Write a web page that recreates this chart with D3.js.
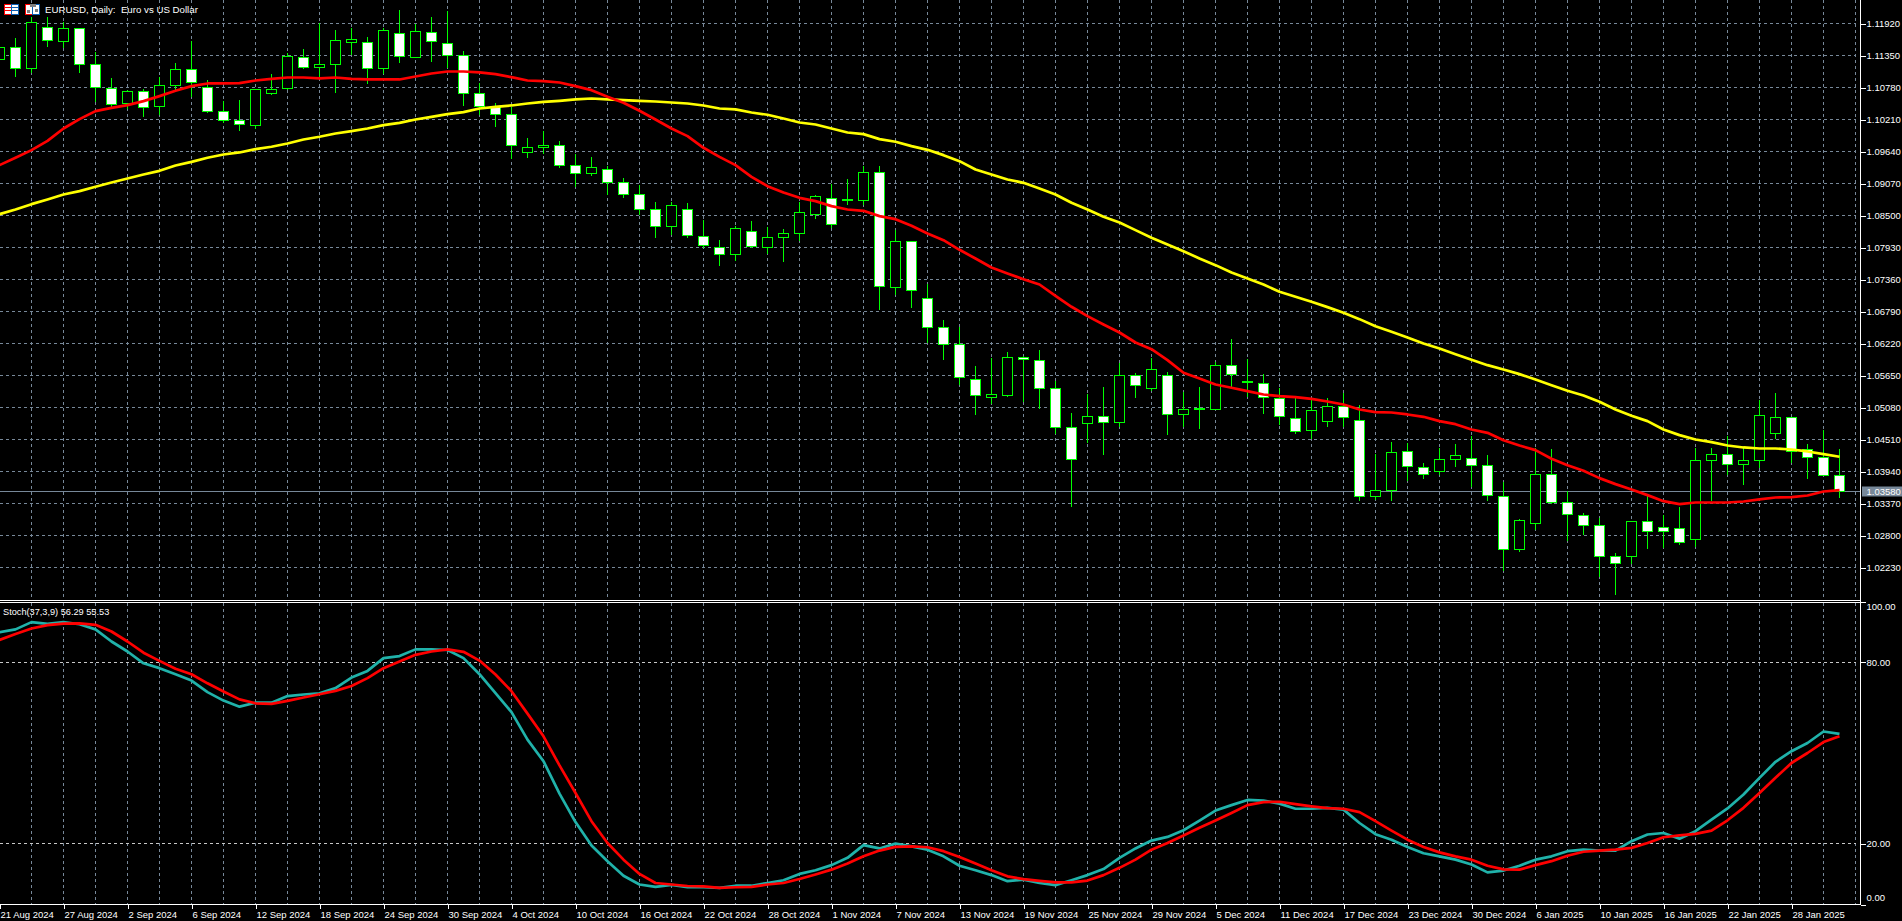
<!DOCTYPE html>
<html>
<head>
<meta charset="utf-8">
<title>EURUSD, Daily</title>
<script src="https://cdn.jsdelivr.net/npm/d3@7"></script>
<style>
  html, body { margin: 0; padding: 0; background: #000; overflow: hidden; }
  svg { display: block; }
  text { font-family: "Liberation Sans", Arial, sans-serif; font-size: 9.5px; fill: #fff; }
</style>
</head>
<body>
<script>
var dateLabels = ['21 Aug 2024', '27 Aug 2024', '2 Sep 2024', '6 Sep 2024', '12 Sep 2024', '18 Sep 2024', '24 Sep 2024', '30 Sep 2024',
  '4 Oct 2024', '10 Oct 2024', '16 Oct 2024', '22 Oct 2024', '28 Oct 2024', '1 Nov 2024', '7 Nov 2024', '13 Nov 2024',
  '19 Nov 2024', '25 Nov 2024', '29 Nov 2024', '5 Dec 2024', '11 Dec 2024', '17 Dec 2024', '23 Dec 2024', '30 Dec 2024',
  '6 Jan 2025', '10 Jan 2025', '16 Jan 2025', '22 Jan 2025', '28 Jan 2025']

var priceTicks = [1.1192, 1.1135, 1.1078, 1.1021, 1.0964, 1.0907, 1.085, 1.0793, 1.0736, 1.0679,
  1.0622, 1.0565, 1.0508, 1.0451, 1.0394, 1.0337, 1.028, 1.0223]
var stochTicks = [100, 80, 20, 0]
var lastPrice = 1.0358

var opens = [1.11279, 1.11493, 1.11119, 1.11849, 1.11594, 1.11831, 1.11190, 1.10763, 1.10495, 1.10703,
  1.10442, 1.10810, 1.11101, 1.10780, 1.10353, 1.10193, 1.10104, 1.10674, 1.10763, 1.11315,
  1.11137, 1.11190, 1.11582, 1.11582, 1.11119, 1.11742, 1.11315, 1.11760, 1.11564, 1.11350,
  1.10674, 1.10448, 1.10299, 1.09623, 1.09706, 1.09747, 1.09391, 1.09248, 1.09320, 1.09082,
  1.08874, 1.08607, 1.08304, 1.08607, 1.08126, 1.07930, 1.07806, 1.08215, 1.07930, 1.08109,
  1.08180, 1.08518, 1.08803, 1.08768, 1.08768, 1.09266, 1.07218, 1.08037, 1.07022, 1.06505,
  1.06203, 1.05579, 1.05253, 1.05288, 1.05971, 1.05918, 1.05419, 1.04724, 1.04795, 1.04920,
  1.04813, 1.05650, 1.05413, 1.05650, 1.04950, 1.05045, 1.05045, 1.05829, 1.05526, 1.05508,
  1.05241, 1.04884, 1.04665, 1.04825, 1.05098, 1.04849, 1.03495, 1.03602, 1.04291, 1.04006,
  1.03934, 1.04154, 1.04172, 1.04047, 1.03495, 1.02551, 1.03014, 1.03887, 1.03388, 1.03157,
  1.02979, 1.02426, 1.02426, 1.03050, 1.02943, 1.02925, 1.02729, 1.04136, 1.04243, 1.04065,
  1.04136, 1.04617, 1.04902, 1.04332, 1.04190, 1.03863]

var highs = [1.11624, 1.11659, 1.12039, 1.12027, 1.11938, 1.11831, 1.11404, 1.10958, 1.10733, 1.10745,
  1.10970, 1.11208, 1.11600, 1.10911, 1.10537, 1.10555, 1.10745, 1.11018, 1.11398, 1.11457,
  1.11932, 1.11802, 1.11831, 1.11671, 1.11831, 1.12158, 1.11920, 1.12027, 1.12146, 1.11433,
  1.10852, 1.10507, 1.10436, 1.09872, 1.10009, 1.09824, 1.09587, 1.09534, 1.09379, 1.09165,
  1.09041, 1.08738, 1.08738, 1.08720, 1.08411, 1.08061, 1.08310, 1.08399, 1.08304, 1.08257,
  1.08738, 1.08874, 1.09059, 1.09148, 1.09379, 1.09379, 1.08239, 1.08037, 1.07271, 1.06636,
  1.06517, 1.05817, 1.05953, 1.06060, 1.05990, 1.06102, 1.05549, 1.04974, 1.05312, 1.05437,
  1.05864, 1.05686, 1.05953, 1.05710, 1.05354, 1.05437, 1.05888, 1.06292, 1.05947, 1.05674,
  1.05419, 1.05270, 1.05241, 1.05241, 1.05330, 1.05116, 1.04243, 1.04457, 1.04445, 1.04083,
  1.04350, 1.04427, 1.04570, 1.04231, 1.03750, 1.03091, 1.04350, 1.04332, 1.03590, 1.03192,
  1.03103, 1.02480, 1.03056, 1.03531, 1.03174, 1.03299, 1.04350, 1.04350, 1.04570, 1.04350,
  1.05211, 1.05330, 1.04902, 1.04427, 1.04677, 1.04332]

var lows = [1.11208, 1.10970, 1.11042, 1.11505, 1.11475, 1.11042, 1.10513, 1.10436, 1.10400, 1.10258,
  1.10288, 1.10733, 1.10614, 1.10329, 1.10151, 1.10009, 1.10032, 1.10644, 1.10733, 1.11107,
  1.10958, 1.10685, 1.11356, 1.10834, 1.11018, 1.11220, 1.11297, 1.11238, 1.11119, 1.10454,
  1.10299, 1.10080, 1.09504, 1.09528, 1.09593, 1.09349, 1.08999, 1.09207, 1.08863, 1.08815,
  1.08506, 1.08103, 1.08156, 1.08103, 1.07913, 1.07604, 1.07687, 1.07930, 1.07818, 1.07675,
  1.08049, 1.08435, 1.08269, 1.08684, 1.08684, 1.06814, 1.07081, 1.06844, 1.06232, 1.05924,
  1.05478, 1.04944, 1.05140, 1.05270, 1.05181, 1.05057, 1.04605, 1.03299, 1.04439, 1.04231,
  1.04736, 1.05247, 1.05377, 1.04588, 1.04736, 1.04694, 1.05033, 1.05437, 1.05270, 1.04962,
  1.04766, 1.04605, 1.04516, 1.04736, 1.04736, 1.03412, 1.03430, 1.03412, 1.03774, 1.03804,
  1.03875, 1.04024, 1.03667, 1.03418, 1.02171, 1.02509, 1.02895, 1.03370, 1.02699, 1.02806,
  1.02064, 1.01738, 1.02284, 1.02557, 1.02581, 1.02628, 1.02599, 1.03418, 1.03875, 1.03697,
  1.03994, 1.04516, 1.04095, 1.03804, 1.03857, 1.03472]

var closes = [1.11493, 1.11119, 1.11938, 1.11612, 1.11831, 1.11190, 1.10780, 1.10472, 1.10709, 1.10424,
  1.10816, 1.11101, 1.10864, 1.10353, 1.10193, 1.10121, 1.10745, 1.10745, 1.11333, 1.11137,
  1.11190, 1.11618, 1.11635, 1.11119, 1.11796, 1.11333, 1.11778, 1.11600, 1.11350, 1.10674,
  1.10442, 1.10299, 1.09747, 1.09706, 1.09747, 1.09391, 1.09248, 1.09355, 1.09082, 1.08874,
  1.08607, 1.08304, 1.08679, 1.08144, 1.07966, 1.07806, 1.08269, 1.07948, 1.08109, 1.08180,
  1.08554, 1.08839, 1.08340, 1.08785, 1.09266, 1.07236, 1.08037, 1.07164, 1.06505, 1.06203,
  1.05609, 1.05288, 1.05312, 1.05971, 1.05929, 1.05413, 1.04724, 1.04154, 1.04920, 1.04813,
  1.05650, 1.05466, 1.05757, 1.04956, 1.05045, 1.05057, 1.05829, 1.05662, 1.05538, 1.05259,
  1.04914, 1.04647, 1.05027, 1.05098, 1.04896, 1.03495, 1.03602, 1.04279, 1.04030, 1.03887,
  1.04154, 1.04225, 1.04041, 1.03513, 1.02551, 1.03068, 1.03887, 1.03388, 1.03174, 1.02979,
  1.02426, 1.02302, 1.03050, 1.02872, 1.02872, 1.02676, 1.04136, 1.04243, 1.04065, 1.04136,
  1.04938, 1.04902, 1.04291, 1.04190, 1.03869, 1.03580]

var maFast = [1.09397, 1.09528, 1.09664, 1.09830, 1.10050, 1.10216, 1.10359, 1.10418, 1.10466, 1.10537,
  1.10626, 1.10721, 1.10804, 1.10852, 1.10852, 1.10858, 1.10905, 1.10935, 1.10958, 1.10958,
  1.10941, 1.10958, 1.10935, 1.10923, 1.10923, 1.10923, 1.10976, 1.11030, 1.11065, 1.11065,
  1.11048, 1.11018, 1.10964, 1.10905, 1.10893, 1.10869, 1.10804, 1.10733, 1.10614, 1.10507,
  1.10365, 1.10210, 1.10050, 1.09914, 1.09706, 1.09545, 1.09397, 1.09189, 1.09023, 1.08910,
  1.08815, 1.08756, 1.08667, 1.08607, 1.08584, 1.08489, 1.08435, 1.08316, 1.08180, 1.08061,
  1.07889, 1.07734, 1.07574, 1.07467, 1.07366, 1.07271, 1.07069, 1.06874, 1.06707, 1.06559,
  1.06416, 1.06238, 1.06119, 1.05924, 1.05698, 1.05597, 1.05490, 1.05431, 1.05371, 1.05312,
  1.05282, 1.05264, 1.05235, 1.05187, 1.05134, 1.05045, 1.04997, 1.04991, 1.04956, 1.04914,
  1.04837, 1.04783, 1.04688, 1.04629, 1.04498, 1.04403, 1.04320, 1.04166, 1.04053, 1.03952,
  1.03822, 1.03715, 1.03620, 1.03519, 1.03412, 1.03358, 1.03388, 1.03388, 1.03388, 1.03406,
  1.03442, 1.03477, 1.03483, 1.03513, 1.03584, 1.03608]

var maSlow = [1.08524, 1.08607, 1.08702, 1.08785, 1.08874, 1.08934, 1.09011, 1.09088, 1.09159, 1.09231,
  1.09296, 1.09391, 1.09456, 1.09528, 1.09587, 1.09623, 1.09682, 1.09724, 1.09783, 1.09854,
  1.09902, 1.09961, 1.10003, 1.10050, 1.10109, 1.10151, 1.10210, 1.10258, 1.10305, 1.10341,
  1.10406, 1.10436, 1.10460, 1.10495, 1.10525, 1.10543, 1.10567, 1.10584, 1.10567, 1.10555,
  1.10543, 1.10531, 1.10513, 1.10495, 1.10460, 1.10406, 1.10389, 1.10335, 1.10294, 1.10228,
  1.10157, 1.10121, 1.10050, 1.09979, 1.09949, 1.09860, 1.09813, 1.09735, 1.09670, 1.09575,
  1.09468, 1.09320, 1.09231, 1.09142, 1.09082, 1.08981, 1.08874, 1.08726, 1.08607, 1.08477,
  1.08376, 1.08239, 1.08103, 1.07984, 1.07865, 1.07734, 1.07616, 1.07485, 1.07378, 1.07271,
  1.07141, 1.07052, 1.06963, 1.06868, 1.06767, 1.06654, 1.06529, 1.06428, 1.06327, 1.06220,
  1.06131, 1.06030, 1.05929, 1.05834, 1.05757, 1.05674, 1.05579, 1.05478, 1.05377, 1.05294,
  1.05181, 1.05045, 1.04932, 1.04837, 1.04688, 1.04588, 1.04510, 1.04463, 1.04403, 1.04368,
  1.04350, 1.04350, 1.04332, 1.04297, 1.04249, 1.04202]

var stochMain = [89.9, 90.8, 93.2, 92.6, 93.2, 92.5, 90.8, 86.8, 83.5, 79.6,
  78.0, 76.0, 73.9, 70.1, 67.3, 65.3, 66.6, 66.6, 68.8, 69.3,
  69.7, 71.4, 74.9, 77.1, 81.3, 82.0, 84.2, 84.2, 84.0, 81.3,
  76.0, 69.8, 63.5, 54.4, 47.3, 36.6, 27.2, 19.5, 14.3, 9.5,
  6.6, 5.8, 6.5, 5.7, 5.7, 5.5, 6.2, 6.2, 7.1, 8.0,
  10.1, 11.3, 13.0, 15.4, 19.6, 18.5, 20.1, 19.2, 18.1, 15.9,
  12.8, 11.3, 9.7, 7.7, 8.2, 7.1, 6.4, 8.0, 9.7, 11.7,
  15.4, 18.5, 21.1, 22.3, 24.5, 27.7, 31.0, 32.8, 34.5, 34.3,
  33.3, 31.6, 31.6, 31.9, 31.3, 26.9, 23.2, 21.4, 19.0, 16.9,
  15.9, 14.8, 13.2, 10.6, 11.2, 12.8, 14.8, 15.9, 17.6, 18.1,
  17.8, 17.8, 20.9, 23.1, 23.6, 21.7, 24.2, 28.0, 31.7, 36.3,
  41.8, 47.1, 50.6, 53.3, 57.1, 56.29]

var stochSignal = [87.3, 89.3, 91.1, 92.2, 92.7, 92.8, 92.3, 90.1, 86.8, 83.1,
  80.4, 77.8, 76.0, 73.0, 70.3, 67.7, 66.4, 66.2, 67.2, 68.3,
  69.4, 70.5, 72.1, 74.7, 78.0, 80.2, 82.4, 83.5, 84.2, 83.4,
  80.5, 75.9, 70.4, 63.0, 55.5, 45.9, 36.8, 27.5, 20.3, 14.8,
  10.1, 7.1, 6.6, 6.1, 6.0, 5.5, 5.7, 5.8, 6.6, 7.1,
  8.4, 9.9, 11.5, 13.5, 15.9, 17.8, 19.0, 19.2, 18.9, 17.6,
  15.7, 13.5, 11.3, 9.3, 8.4, 7.8, 7.3, 7.3, 7.9, 9.7,
  12.1, 14.8, 18.1, 20.3, 22.8, 25.3, 27.7, 30.2, 32.8, 33.8,
  33.9, 33.1, 32.4, 31.8, 31.6, 30.5, 27.5, 24.4, 21.4, 19.0,
  17.2, 15.9, 14.8, 12.8, 11.6, 11.5, 13.0, 14.3, 16.1, 17.4,
  17.8, 18.1, 18.7, 20.3, 22.2, 22.8, 23.3, 24.4, 27.8, 31.9,
  36.8, 41.8, 46.7, 50.0, 53.6, 55.53]

var w = 1902
var h = 921
var axisX = 1860.5
var mainBottom = 600
var subTop = 603
var subBottom = 904.5
var gridRight = 1856

var gridColor = '#778899'
var candleColor = '#00ff00'

var svg = d3.select('body')
            .append('svg')
            .attr('width', w)
            .attr('height', h)

var x = d3.scaleLinear()
        .domain([0, 115])
        .range([-0.5, 1839.5])

var y = d3.scaleLinear()
        .domain([1.0223, 1.1192])
        .range([567.5, 23.5])

var yStoch = d3.scaleLinear()
        .domain([0, 100])
        .range([904.5, 601.5])

// every second bar gets a vertical grid line
var gridBars = d3.range(2, 117, 2)

function crisp (v) {
  return Math.round(v - 0.5) + 0.5
}

var grid = svg.append('g')
              .attr('shape-rendering', 'crispEdges')
              .attr('stroke-dasharray', '3,3')
              .attr('fill', 'none')

grid.selectAll('.v-main')
    .data(gridBars)
    .enter()
      .append('line')
      .attr('x1', function (d) { return x(d) })
      .attr('x2', function (d) { return x(d) })
      .attr('y1', 0)
      .attr('y2', mainBottom)
      .attr('stroke', gridColor)

grid.selectAll('.v-sub')
    .data(gridBars)
    .enter()
      .append('line')
      .attr('x1', function (d) { return x(d) })
      .attr('x2', function (d) { return x(d) })
      .attr('y1', subTop)
      .attr('y2', subBottom)
      .attr('stroke', gridColor)

grid.selectAll('.h-main')
    .data(priceTicks)
    .enter()
      .append('line')
      .attr('x1', 0)
      .attr('x2', gridRight)
      .attr('y1', function (d) { return crisp(y(d)) })
      .attr('y2', function (d) { return crisp(y(d)) })
      .attr('stroke', gridColor)

grid.selectAll('.h-sub')
    .data([80, 20])
    .enter()
      .append('line')
      .attr('x1', 0)
      .attr('x2', gridRight)
      .attr('y1', function (d) { return crisp(yStoch(d)) })
      .attr('y2', function (d) { return crisp(yStoch(d)) })
      .attr('stroke', '#c8c8c8')

// bid line
svg.append('line')
    .attr('x1', 0)
    .attr('x2', axisX)
    .attr('y1', crisp(y(lastPrice)))
    .attr('y2', crisp(y(lastPrice)))
    .attr('stroke', gridColor)
    .attr('shape-rendering', 'crispEdges')

// CANDLES
var candles = svg.append('g')
                .attr('shape-rendering', 'crispEdges')

candles.selectAll('.wick')
    .data(opens)
    .enter()
      .append('line')
      .attr('x1', function (d, i) { return x(i) })
      .attr('x2', function (d, i) { return x(i) })
      .attr('y1', function (d, i) { return y(highs[i]) })
      .attr('y2', function (d, i) { return y(lows[i]) })
      .attr('stroke', candleColor)

candles.selectAll('.body')
    .data(opens)
    .enter()
      .append('rect')
      .attr('x', function (d, i) { return x(i) - 5 })
      .attr('width', 10)
      .attr('y', function (d, i) { return crisp(y(Math.max(d, closes[i]))) })
      .attr('height', function (d, i) {
        return Math.max(1, Math.round(y(Math.min(d, closes[i])) - y(Math.max(d, closes[i]))))
      })
      .attr('fill', function (d, i) { return closes[i] < d ? '#fff' : '#000' })
      .attr('stroke', candleColor)

// LINES
function drawLine (values, scale, color) {
  var line = d3.line()
              .x(function (d, i) { return x(i) })
              .y(function (d) { return scale(d) })

  svg.append('path')
      .datum(values)
      .attr('d', line)
      .attr('fill', 'none')
      .attr('stroke', color)
      .attr('stroke-width', 2.7)
      .attr('stroke-linejoin', 'round')
}

drawLine(maSlow, y, '#ffff00')
drawLine(maFast, y, '#ff0000')
drawLine(stochMain, yStoch, '#20b2aa')
drawLine(stochSignal, yStoch, '#ff0000')

// FRAME
var frame = svg.append('g')
              .attr('shape-rendering', 'crispEdges')
              .attr('stroke', '#fff')

frame.append('line').attr('x1', axisX).attr('x2', axisX).attr('y1', 0).attr('y2', subBottom)
frame.append('line').attr('x1', 0).attr('x2', axisX).attr('y1', 600.5).attr('y2', 600.5)
frame.append('line').attr('x1', 0).attr('x2', axisX).attr('y1', 602.5).attr('y2', 602.5)
frame.append('line').attr('x1', 0).attr('x2', axisX).attr('y1', subBottom).attr('y2', subBottom)

// AXES
var priceAxis = d3.axisRight(y)
                  .tickValues(priceTicks)
                  .tickFormat(d3.format('.5f'))
                  .tickSize(5)
                  .tickPadding(1)

var stochAxis = d3.axisRight(yStoch)
                  .tickValues(stochTicks)
                  .tickFormat(d3.format('.2f'))
                  .tickSize(5)
                  .tickPadding(1)

var dateAxis = d3.axisBottom(x)
                .tickValues(dateLabels.map(function (d, i) { return i * 4 }))
                .tickFormat(function (d) { return dateLabels[d / 4] })
                .tickSize(4)
                .tickPadding(1)

function styleAxis (g) {
  g.attr('shape-rendering', 'crispEdges')
  g.select('.domain').remove()
  g.selectAll('.tick line').attr('stroke', '#fff')
  g.selectAll('.tick text').attr('fill', '#fff').style('font-family', null).style('font-size', null)
}

svg.append('g')
    .attr('transform', 'translate(' + axisX + ',0)')
    .attr('font-family', null)
    .call(priceAxis)
    .call(styleAxis)

var stochG = svg.append('g')
    .attr('transform', 'translate(' + axisX + ',0)')
    .call(stochAxis)
    .call(styleAxis)

// the outer labels sit inside the panel in MT4
stochG.selectAll('.tick text')
    .attr('dy', function (d) { return d === 100 ? '0.8em' : d === 0 ? '-0.45em' : '0.32em' })

var dateG = svg.append('g')
    .attr('transform', 'translate(0,' + subBottom + ')')
    .call(dateAxis)
    .call(styleAxis)

dateG.selectAll('.tick text')
    .attr('text-anchor', 'start')
    .attr('x', 0.5)
    .attr('dy', '0.85em')

// last price label
svg.append('rect')
    .attr('x', 1862)
    .attr('y', crisp(y(lastPrice)) - 5)
    .attr('width', 40)
    .attr('height', 10)
    .attr('fill', gridColor)

svg.append('text')
    .attr('x', axisX + 6)
    .attr('y', crisp(y(lastPrice)) + 3.5)
    .text(d3.format('.5f')(lastPrice))

// TITLES
svg.append('text')
    .attr('x', 45)
    .attr('y', 13)
    .style('white-space', 'pre')
    .style('font-size', '9.7px')
    .text('EURUSD, Daily:  Euro vs US Dollar')

svg.append('text')
    .attr('x', 3)
    .attr('y', 615)
    .style('font-size', '9.2px')
    .text('Stoch(37,3,9) 56.29 55.53')

// window icons in the corner
function icon (g, left, rightColor) {
  g.append('rect').attr('x', left + 0.5).attr('y', 4.5).attr('width', 7).attr('height', 10).attr('fill', '#fff').attr('stroke', '#ff0000')
  g.append('rect').attr('x', left + 7.5).attr('y', 4.5).attr('width', 7).attr('height', 10).attr('fill', '#fff').attr('stroke', rightColor)
}

var icons = svg.append('g').attr('shape-rendering', 'crispEdges')
icon(icons, 4, '#0a5fb4')
icon(icons, 25, '#0a5fb4')
icons.selectAll('.stripe-l')
    .data([7.5, 10.5])
    .enter()
      .append('line')
      .attr('x1', 5)
      .attr('x2', 11)
      .attr('y1', function (d) { return d })
      .attr('y2', function (d) { return d })
      .attr('stroke', '#ff0000')
icons.selectAll('.stripe-r')
    .data([7.5, 10.5])
    .enter()
      .append('line')
      .attr('x1', 12)
      .attr('x2', 18)
      .attr('y1', function (d) { return d })
      .attr('y2', function (d) { return d })
      .attr('stroke', '#0a5fb4')
icons.append('rect').attr('x', 30).attr('y', 4).attr('width', 6).attr('height', 3).attr('fill', '#808080')
icons.append('rect').attr('x', 27).attr('y', 10).attr('width', 3).attr('height', 3).attr('fill', '#808080')
icons.append('rect').attr('x', 35).attr('y', 9).attr('width', 3).attr('height', 3).attr('fill', '#808080')
</script>
</body>
</html>
